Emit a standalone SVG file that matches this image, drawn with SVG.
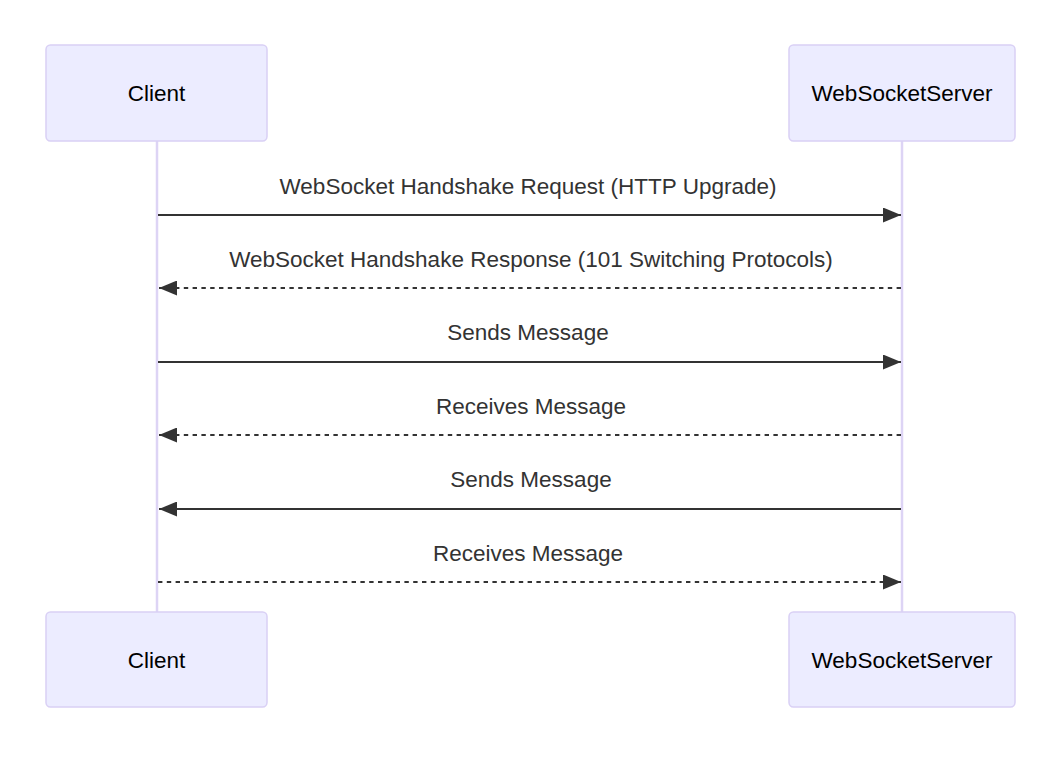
<svg xmlns="http://www.w3.org/2000/svg" width="1059" height="766" viewBox="0 0 1059 766">
<style>
.actor{fill:#ECECFF;stroke:#D9D0F5;stroke-width:1.5}
.life{stroke:#DDD4F5;stroke-width:2.5}
.alabel{font-family:"Liberation Sans",Arial,sans-serif;font-size:22.5px;fill:#000;text-anchor:middle;dominant-baseline:central}
.mlabel{font-family:"Liberation Sans",Arial,sans-serif;font-size:22.5px;fill:#333;text-anchor:middle;dominant-baseline:central}
.msg{stroke:#333;stroke-width:2.2;fill:none}
.dash{stroke-dasharray:4.4,4.4}
</style>
<defs>
<marker id="ah" viewBox="0 0 12 10" refX="12" refY="5" markerUnits="userSpaceOnUse" markerWidth="18" markerHeight="15" orient="auto">
<path d="M0,0 L12,5 L0,10 z" fill="#333"/>
</marker>
</defs>
<rect width="1059" height="766" fill="#fff"/>
<g id="lifelines">
<line class="life" x1="157" y1="141" x2="157" y2="612"/>
<line class="life" x1="902" y1="141" x2="902" y2="612"/>
</g>
<g id="actor-client-top">
<rect class="actor" x="46" y="45" width="221" height="96" rx="4.4"/>
<text class="alabel" x="156.5" y="93">Client</text>
</g>
<g id="actor-server-top">
<rect class="actor" x="789" y="45" width="226" height="96" rx="4.4"/>
<text class="alabel" x="902" y="93">WebSocketServer</text>
</g>
<g id="actor-client-bottom">
<rect class="actor" x="46" y="612" width="221" height="95" rx="4.4"/>
<text class="alabel" x="156.5" y="660">Client</text>
</g>
<g id="actor-server-bottom">
<rect class="actor" x="789" y="612" width="226" height="95" rx="4.4"/>
<text class="alabel" x="902" y="660">WebSocketServer</text>
</g>
<g id="connectors">
<line class="msg" x1="158" y1="215" x2="901" y2="215" marker-end="url(#ah)"/>
<line class="msg dash" x1="901" y1="288" x2="159" y2="288" marker-end="url(#ah)"/>
<line class="msg" x1="158" y1="362" x2="901" y2="362" marker-end="url(#ah)"/>
<line class="msg dash" x1="901" y1="435" x2="159" y2="435" marker-end="url(#ah)"/>
<line class="msg" x1="901" y1="509" x2="159" y2="509" marker-end="url(#ah)"/>
<line class="msg dash" x1="158" y1="582" x2="901" y2="582" marker-end="url(#ah)"/>
</g>
<g id="labels">
<text class="mlabel" x="528" y="186">WebSocket Handshake Request (HTTP Upgrade)</text>
<text class="mlabel" x="531" y="259">WebSocket Handshake Response (101 Switching Protocols)</text>
<text class="mlabel" x="528" y="332">Sends Message</text>
<text class="mlabel" x="531" y="406">Receives Message</text>
<text class="mlabel" x="531" y="479">Sends Message</text>
<text class="mlabel" x="528" y="553">Receives Message</text>
</g>
</svg>
